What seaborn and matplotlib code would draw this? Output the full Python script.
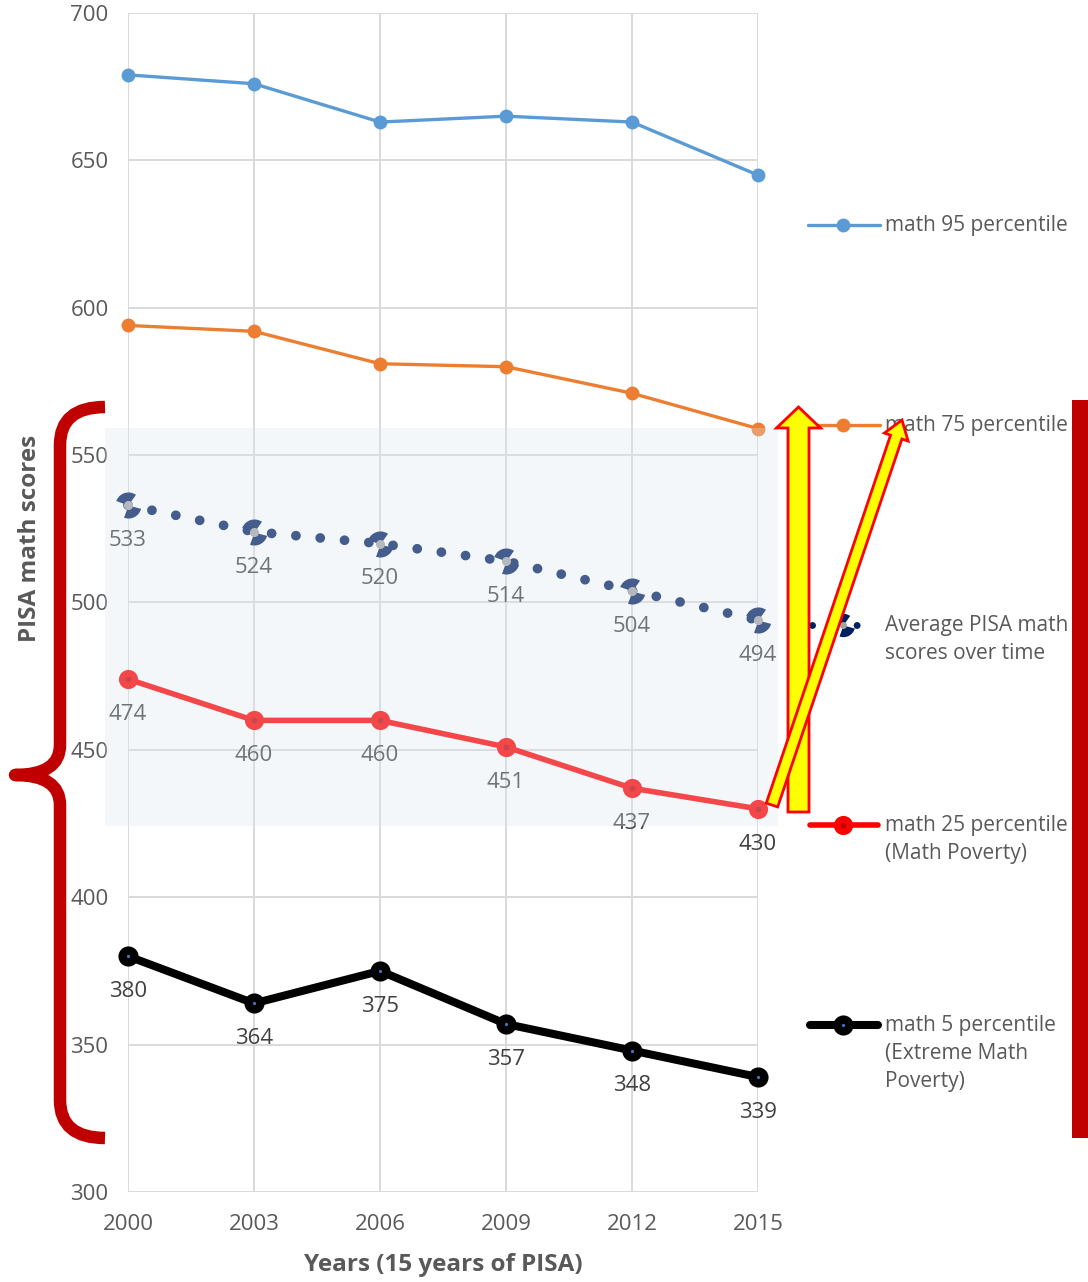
import numpy as np
import pandas as pd
import matplotlib
matplotlib.use('Agg')
import matplotlib.pyplot as plt
import matplotlib.transforms as mtransforms
from matplotlib.path import Path
from matplotlib.patches import Rectangle, FancyArrow, PathPatch
from matplotlib.lines import Line2D
import seaborn as sns

# values
years = ["2000", "2003", "2006", "2009", "2012", "2015"]
p95 = [679, 676, 663, 665, 663, 645]
p75 = [594, 592, 581, 580, 571, 559]
avg = [533, 524, 520, 514, 504, 494]
p25 = [474, 460, 460, 451, 437, 430]
p5 = [380, 364, 375, 357, 348, 339]
yticks = [300, 350, 400, 450, 500, 550, 600, 650, 700]

sns.set_theme(style="whitegrid")
plt.rcParams['font.family'] = ['Open Sans', 'DejaVu Sans']

GREY = "#595959"
LBL = "#404040"

W, H = 1088, 1282
fig = plt.figure(figsize=(W / 100, H / 100), dpi=100)
ax = fig.add_axes([128 / W, 1 - 1192 / H, 630 / W, 1179 / H])

# pixel coords with origin at top-left, like the picture
px = mtransforms.Affine2D().scale(0.01, -0.01).translate(0, H / 100) + fig.dpi_scale_trans

x = np.arange(len(years))

# odd "pie" marker used for the average series
pie = Path.make_compound_path(Path.wedge(55, 160), Path.wedge(250, 345))

sns.lineplot(x=x, y=p95, ax=ax, color="#5B9BD5", linewidth=2.4, marker="o",
             markersize=10, markeredgecolor="#5B9BD5", markeredgewidth=0,
             legend=False, clip_on=False, zorder=3)
sns.lineplot(x=x, y=p75, ax=ax, color="#ED7D31", linewidth=2.4, marker="o",
             markersize=10, markeredgecolor="#ED7D31", markeredgewidth=0,
             legend=False, clip_on=False, zorder=3)
sns.lineplot(x=x, y=avg, ax=ax, color="#002060", linewidth=7,
             linestyle=(0, (0.01, 2.5)), dash_capstyle="round", marker=pie,
             markersize=19, markeredgewidth=0, markeredgecolor="#002060",
             legend=False, clip_on=False, zorder=3)
ax.plot(x, avg, "o", color="#A5A5A5", markersize=5.5, zorder=3.1, clip_on=False)
sns.lineplot(x=x, y=p25, ax=ax, color="#FF0000", linewidth=4, marker="o",
             markersize=9, markerfacecolor="#C00000", markeredgecolor="#FF0000",
             markeredgewidth=4.8, legend=False, clip_on=False, zorder=3)
sns.lineplot(x=x, y=p5, ax=ax, color="black", linewidth=5.8, marker="o",
             markersize=8.5, markerfacecolor="#4472C4", markeredgecolor="black",
             markeredgewidth=6, legend=False, clip_on=False, zorder=3)

for series in (avg, p25, p5):
    for i, v in enumerate(series):
        ax.annotate(str(v), (i, v), xytext=(0, -25.5), textcoords="offset points",
                    ha="center", va="center", fontsize=16, color=LBL, zorder=4)

ax.set_xlim(0, 5)
ax.set_ylim(300, 700)
ax.set_yticks(yticks)
ax.set_xticks(x)
ax.set_xticklabels(years)
ax.grid(True, color="#D9D9D9", linewidth=1.4)
for s in ax.spines.values():
    s.set_visible(False)
ax.tick_params(axis="both", length=0, labelsize=16, labelcolor=GREY)
ax.tick_params(axis="y", pad=14)
ax.tick_params(axis="x", pad=16)
ax.set_xlabel("")
ax.set_ylabel("")

fig.text(30, 538, "PISA math scores", transform=px, rotation=90, ha="center",
         va="center", fontsize=17.5, fontweight="bold", color=GREY)
fig.text(443, 1265, "Years (15 years of PISA)", transform=px, ha="center",
         va="center", fontsize=17.5, fontweight="bold", color=GREY)

# legend drawn by hand on the right
def leg_line(y, x0, x1, **kw):
    fig.add_artist(Line2D([x0, x1], [y, y], transform=px, zorder=4, **kw))

def leg_marker(y, **kw):
    fig.add_artist(Line2D([843], [y], transform=px, linestyle="none", zorder=4.1, **kw))

def leg_text(y, lines):
    for k, t in enumerate(lines):
        fig.text(885, y + k * 28.5, t, transform=px, ha="left", va="center",
                 fontsize=15, color=GREY, zorder=4)

leg_line(225, 808, 880, color="#5B9BD5", linewidth=2.4, solid_capstyle="round")
leg_marker(225, marker="o", markersize=10, color="#5B9BD5", markeredgewidth=0)
leg_text(225, ["math 95 percentile"])

leg_line(425, 808, 880, color="#ED7D31", linewidth=2.4, solid_capstyle="round")
leg_marker(425, marker="o", markersize=10, color="#ED7D31", markeredgewidth=0)
leg_text(425, ["math 75 percentile"])

leg_line(625, 812, 870, color="#002060", linewidth=5, linestyle=(0, (0.01, 3.2)),
         dash_capstyle="round")
leg_marker(625, marker=pie, markersize=17, color="#002060", markeredgewidth=0)
leg_marker(625, marker="o", markersize=5, color="#A5A5A5", markeredgewidth=0)
leg_text(625, ["Average PISA math", "scores over time"])

leg_line(825, 810, 878, color="#FF0000", linewidth=4, solid_capstyle="round")
leg_marker(825, marker="o", markersize=9, markerfacecolor="#C00000",
           markeredgecolor="#FF0000", markeredgewidth=4.8)
leg_text(825, ["math 25 percentile", "(Math Poverty)"])

leg_line(1025, 810, 878, color="black", linewidth=5.8, solid_capstyle="round")
leg_marker(1025, marker="o", markersize=8.5, markerfacecolor="#4472C4",
           markeredgecolor="black", markeredgewidth=6)
leg_text(1025, ["math 5 percentile", "(Extreme Math", "Poverty)"])

# translucent light-blue box over the middle band
fig.add_artist(Rectangle((105, 428), 673, 398, transform=px, facecolor="#DCE8F2",
                         alpha=0.31, edgecolor="none", zorder=5))

# yellow arrows
fig.add_artist(FancyArrow(798.5, 812, 0, -405, width=21, head_width=44, head_length=21,
                          length_includes_head=True, facecolor="#FFFF00",
                          edgecolor="#FF0000", linewidth=2, transform=px, zorder=6))
fig.add_artist(FancyArrow(772, 805, 130, -385, width=12, head_width=25, head_length=18,
                          length_includes_head=True, facecolor="#FFFF00",
                          edgecolor="#FF0000", linewidth=2, transform=px, zorder=6))

# red brace on the left
brace = Path(
    [(105, 407), (60, 407), (60, 445), (60, 745), (60, 775), (15, 775),
     (60, 775), (60, 805), (60, 1100), (60, 1138), (105, 1138)],
    [Path.MOVETO, Path.CURVE3, Path.CURVE3, Path.LINETO, Path.CURVE3, Path.CURVE3,
     Path.CURVE3, Path.CURVE3, Path.LINETO, Path.CURVE3, Path.CURVE3])
fig.add_artist(PathPatch(brace, fill=False, edgecolor="#C00000", linewidth=9,
                         capstyle="butt", joinstyle="round", transform=px, zorder=6))

# red bar on the right
fig.add_artist(Rectangle((1072, 400), 16, 738, transform=px, facecolor="#C00000",
                         edgecolor="none", zorder=6))

fig.savefig("out.png", dpi=100)
